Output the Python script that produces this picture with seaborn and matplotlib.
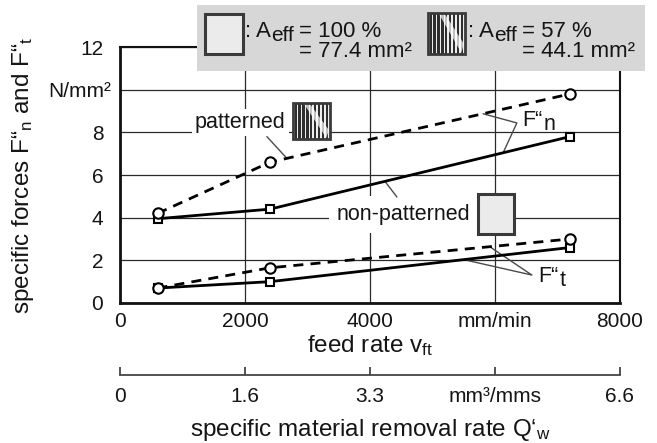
import matplotlib
matplotlib.use("Agg")
import matplotlib.pyplot as plt
import seaborn as sns
import pandas as pd
from matplotlib.patches import Rectangle, Polygon
from matplotlib.transforms import Affine2D, ScaledTranslation

# measured specific forces over feed rate
feed_rate = [600, 2400, 7200]
fn_patterned = [4.2, 6.6, 9.8]
fn_plain = [3.95, 4.4, 7.8]
ft_patterned = [0.7, 1.65, 3.0]
ft_plain = [0.7, 1.0, 2.6]

force_ticks = [0, 2, 4, 6, 8, 10, 12]
force_ticklabels = ["0", "2", "4", "6", "8", "N/mm²", "12"]
feed_ticks = [0, 2000, 4000, 6000, 8000]
feed_ticklabels = ["0", "2000", "4000", "mm/min", "8000"]
removal_ticklabels = ["0", "1.6", "3.3", "mm³/mms", "6.6"]

sns.set_theme(style="white")
plt.rcParams["font.family"] = ["Liberation Sans", "DejaVu Sans"]
plt.rcParams["mathtext.fontset"] = "custom"
plt.rcParams["mathtext.rm"] = "Liberation Sans"
plt.rcParams["mathtext.it"] = "Liberation Sans:italic"
plt.rcParams["mathtext.bf"] = "Liberation Sans:bold"

TXT = "#151515"
W, H = 657, 443
fig = plt.figure(figsize=(W / 100, H / 100), dpi=100)
fig.patch.set_facecolor("white")
renderer = fig.canvas.get_renderer()
pix = Affine2D().scale(1 / W, -1 / H).translate(0, 1) + fig.transFigure

ax = fig.add_axes([120 / W, 1 - 303 / H, 500 / W, 256 / H])
ax.set_xlim(0, 8000)
ax.set_ylim(0, 12)

series = pd.DataFrame({
    "feed": feed_rate * 4,
    "force": fn_patterned + fn_plain + ft_patterned + ft_plain,
    "curve": ["Fn patterned"] * 3 + ["Fn plain"] * 3 + ["Ft patterned"] * 3 + ["Ft plain"] * 3,
})
dash = (0, (3.6, 2.6))
styles = {
    "Fn plain": dict(linestyle="-", marker="s", markersize=6),
    "Ft plain": dict(linestyle="-", marker="s", markersize=6),
    "Fn patterned": dict(linestyle=dash, marker="o", markersize=7.5),
    "Ft patterned": dict(linestyle=dash, marker="o", markersize=7.5),
}
for name in ["Fn plain", "Ft plain", "Fn patterned", "Ft patterned"]:
    sub = series[series["curve"] == name]
    sns.lineplot(data=sub, x="feed", y="force", ax=ax, color="black", lw=2.0,
                 markerfacecolor="white", markeredgecolor="black",
                 markeredgewidth=1.5, zorder=4, sort=False, legend=False,
                 **styles[name])

ax.set_xticks(feed_ticks)
ax.set_xticklabels(feed_ticklabels)
ax.set_yticks(force_ticks)
ax.set_yticklabels(force_ticklabels)
ax.tick_params(axis="both", length=0, labelsize=15, labelcolor=TXT)
ax.tick_params(axis="x", pad=6.5)
ax.tick_params(axis="y", pad=12)
ax.set_xlabel("")
ax.set_ylabel("")
ax.set_axisbelow(True)
ax.grid(True, color="#2a2a2a", lw=0.9)
for side in ["left", "bottom"]:
    ax.spines[side].set_linewidth(2.0)
    ax.spines[side].set_color("#111111")
for side in ["top", "right"]:
    ax.spines[side].set_linewidth(1.5)
    ax.spines[side].set_color("#111111")
# the unit label sits a little closer to the axis than the numbers
unit_label = ax.get_yticklabels()[5]
unit_label.set_transform(unit_label.get_transform() + ScaledTranslation(0.08, 0, fig.dpi_scale_trans))

# second scale: specific material removal rate
ax2 = fig.add_axes([120 / W, 1 - 375 / H, 500 / W, 0.0001])
ax2.set_xlim(0, 8000)
ax2.set_facecolor("none")
for side in ["left", "right", "top"]:
    ax2.spines[side].set_visible(False)
ax2.spines["bottom"].set_linewidth(1.3)
ax2.spines["bottom"].set_color("#444444")
ax2.set_yticks([])
ax2.set_xticks(feed_ticks)
ax2.set_xticklabels(removal_ticklabels)
ax2.tick_params(axis="x", direction="in", length=6, width=1.3, color="#444444",
                labelsize=15, labelcolor=TXT, pad=9, bottom=True)

# axis titles
fig.text(370, 352, r"feed rate v$_\mathrm{ft}$", transform=pix, ha="center",
         va="baseline", fontsize=17.5, color=TXT)
fig.text(370, 436, r"specific material removal rate Q‘$_\mathrm{w}$", transform=pix,
         ha="center", va="baseline", fontsize=17.5, color=TXT)
fig.text(23, 175, r"specific forces F“$_\mathrm{n}$ and F“$_\mathrm{t}$", transform=pix,
         ha="center", va="center", rotation=90, fontsize=17.5, color=TXT)


def text_runs(owner, x, y, pieces, z):
    """Write pieces one after another on a baseline; returns each piece's start x."""
    starts = []
    for s, size, dy, gap in pieces:
        x += gap
        t = owner.text(x, y + dy, s, transform=pix, ha="left", va="baseline",
                       fontsize=size, color=TXT, zorder=z)
        starts.append(x)
        x += t.get_window_extent(renderer=renderer).width
    return starts


def plain_icon(owner, x0, y0, w, h, z):
    owner.add_artist(Rectangle((x0, y0), w, h, transform=pix, facecolor="#ebebeb",
                               edgecolor="#3a3a3a", lw=2.2, zorder=z))


def pattern_icon(owner, x0, y0, w, h, z):
    owner.add_artist(Rectangle((x0, y0), w, h, transform=pix, facecolor="#ededed",
                               edgecolor="none", zorder=z))
    n = 9
    step = (w - 2) / n
    for i in range(n):
        owner.add_artist(Rectangle((x0 + 1.5 + i * step, y0), step * 0.6, h, transform=pix,
                                   facecolor="#2e2e2e", edgecolor="none", zorder=z))
    band = [(x0 + 0.3 * w, y0 + 0.03 * h), (x0 + 0.46 * w, y0 + 0.03 * h),
            (x0 + 0.97 * w, y0 + 0.75 * h), (x0 + 0.9 * w, y0 + 0.97 * h)]
    owner.add_artist(Polygon(band, closed=True, transform=pix, facecolor="white",
                             edgecolor="none", alpha=0.7, zorder=z))
    owner.add_artist(Rectangle((x0, y0), w, h, transform=pix, facecolor="none",
                               edgecolor="#3a3a3a", lw=2.0, zorder=z))


# legend box
fig.add_artist(Rectangle((197, 5), 448, 66, transform=pix, facecolor="#d7d7d7",
                         edgecolor="none", zorder=10))
plain_icon(fig, 205, 14, 38, 40, 11)
pattern_icon(fig, 428, 13, 37, 41, 11)
eq1 = text_runs(fig, 245, 37, [(": A", 16, 0, 0), ("eff", 15, 4, 0),
                               ("= 100 %", 16, 0, 5)], 12)[2]
text_runs(fig, eq1, 57, [("= 77.4 mm²", 16, 0, 0)], 12)
eq2 = text_runs(fig, 468, 37, [(": A", 16, 0, 0), ("eff", 15, 4, 0),
                               ("= 57 %", 16, 0, 5)], 12)[2]
text_runs(fig, eq2, 57, [("= 44.1 mm²", 16, 0, 0)], 12)

# curve labels
ax.text(195, 128, "patterned", transform=pix, ha="left", va="baseline", fontsize=15.5,
        color=TXT, bbox=dict(boxstyle="square,pad=0.15", facecolor="white", edgecolor="none"),
        zorder=2)
ax.text(337, 220, "non-patterned", transform=pix, ha="left", va="baseline", fontsize=15.5,
        color=TXT, bbox=dict(boxstyle="square,pad=0.35", facecolor="white", edgecolor="none"),
        zorder=2)
pattern_icon(ax, 293, 103, 37, 36, 3)
plain_icon(ax, 478, 194, 36, 40, 3)

text_runs(ax, 522, 126, [("F“", 15.5, 0, 0), ("n", 15.5, 4, 1)], 3)
text_runs(ax, 538, 282, [("F“", 15.5, 0, 0), ("t", 15.5, 4, 1)], 3)

lead = dict(color="#4a4a4a", lw=1.0, zorder=3)
ax.plot([2350, 2670], [7.8, 6.78], **lead)
ax.plot([4240, 4430], [5.7, 4.97], **lead)
ax.plot([5810, 6350, 6130], [8.87, 8.44, 7.04], **lead)
ax.plot([5920, 6590, 5550], [2.63, 1.31, 2.0], **lead)

fig.savefig("out.png", dpi=100, facecolor="white")
